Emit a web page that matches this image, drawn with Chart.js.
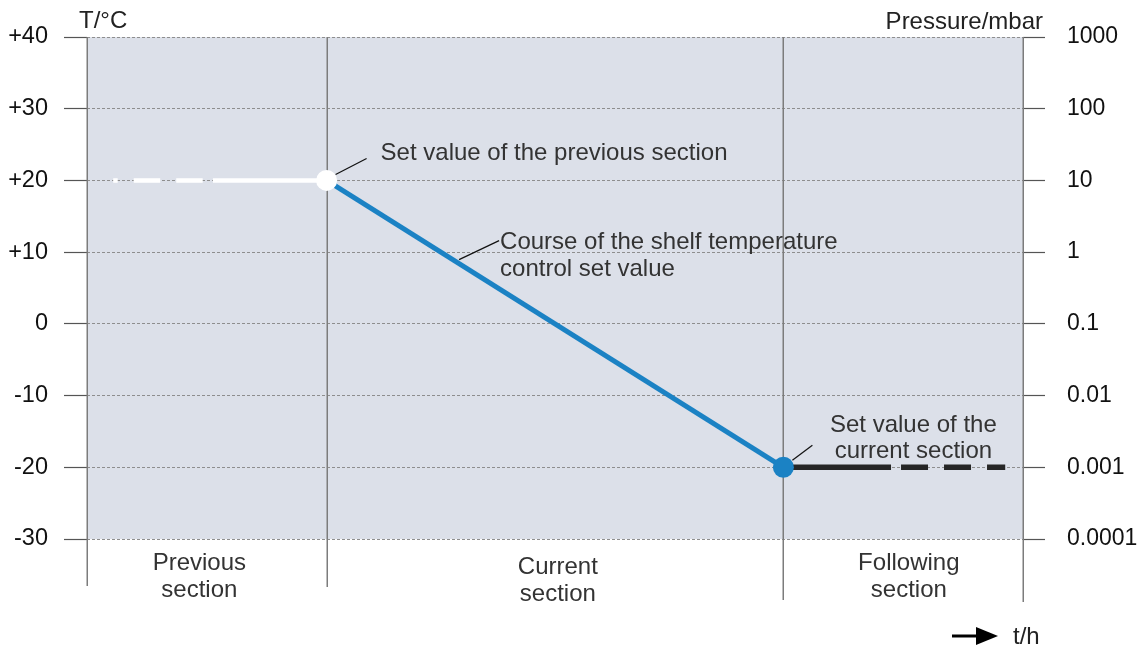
<!DOCTYPE html>
<html>
<head>
<meta charset="utf-8">
<script src="https://cdn.jsdelivr.net/npm/chart.js@4/dist/chart.umd.min.js"></script>
<style>
  html, body { margin: 0; padding: 0; background: #fff; }
  #wrap { width: 1143px; height: 645px; }
</style>
</head>
<body>
<div id="wrap"><canvas id="chart"></canvas></div>
<script>
// time axis runs 0..100 (% of the displayed period)
const sectionEdges = [0, 25.6, 74.4, 100]
const sectionNames = [['Previous', 'section'], ['Current', 'section'], ['Following', 'section']]
const sectionLabelTimes = [12, 50.3, 87.8]

const tempTicks = [40, 30, 20, 10, 0, -10, -20, -30]
const pressureTicks = [1000, 100, 10, 1, 0.1, 0.01, 0.001, 0.0001]

// set value of the previous section (dashed lead-in, then solid)
const prevTimes = [2.8, 13.45, 25.6]
const prevTemps = [20, 20, 20]
// ramp of the current section
const rampTimes = [25.6, 74.4]
const rampTemps = [20, -20]
// set value held into the following section
const nextTimes = [74.4, 85.9, 98.1]
const nextTemps = [-20, -20, -20]

const FONT = '"Liberation Sans", Arial, sans-serif'
const BLUE = '#1b82c4'

const toPoints = (xs, ys) => xs.map((x, i) => ({ x, y: ys[i] }))

const sketch = {
  id: 'sketch',
  beforeDraw(chart) {
    const { ctx, chartArea: a } = chart
    ctx.save()
    ctx.fillStyle = '#dce0e9'
    ctx.fillRect(a.left, a.top, a.right - a.left, a.bottom - a.top)
    ctx.restore()
  },
  beforeDatasetsDraw(chart) {
    const { ctx, chartArea: a, scales } = chart
    const drop = [47, 48, 61, 63]
    ctx.save()
    ctx.strokeStyle = '#7c7c7c'
    ctx.lineWidth = 1.5
    sectionEdges.forEach((t, i) => {
      const x = Math.round(scales.x.getPixelForValue(t)) + 0.25
      ctx.beginPath()
      ctx.moveTo(x, a.top)
      ctx.lineTo(x, a.bottom + drop[i])
      ctx.stroke()
    })
    ctx.restore()
  },
  afterDraw(chart) {
    const { ctx, chartArea: a, scales } = chart
    const sx = scales.x, sy = scales.y
    ctx.save()
    ctx.font = '24px ' + FONT
    ctx.textBaseline = 'alphabetic'

    // section names under the plot
    ctx.fillStyle = '#333'
    ctx.textAlign = 'center'
    sectionNames.forEach((lines, i) => {
      const x = sx.getPixelForValue(sectionLabelTimes[i])
      const y0 = a.bottom + (i === 1 ? 35 : 31)
      lines.forEach((s, j) => ctx.fillText(s, x, y0 + j * 27))
    })

    // axis captions
    ctx.fillStyle = '#222'
    ctx.textAlign = 'left'
    ctx.fillText('T/°C', a.left - 8, a.top - 9)
    ctx.textAlign = 'right'
    ctx.fillText('Pressure/mbar', a.right + 20, a.top - 8)

    // callouts
    ctx.strokeStyle = '#111'
    ctx.lineWidth = 1.2
    ctx.fillStyle = '#333'
    const leader = (x, y, dx1, dy1, dx2, dy2) => {
      ctx.beginPath()
      ctx.moveTo(x + dx1, y + dy1)
      ctx.lineTo(x + dx2, y + dy2)
      ctx.stroke()
    }

    const px = sx.getPixelForValue(rampTimes[0]), py = sy.getPixelForValue(rampTemps[0])
    leader(px, py, 9, -6, 40, -22)
    ctx.textAlign = 'left'
    ctx.fillText('Set value of the previous section', px + 54, py - 20)

    const f = 0.29
    const cx = sx.getPixelForValue(rampTimes[0] + f * (rampTimes[1] - rampTimes[0]))
    const cy = sy.getPixelForValue(rampTemps[0] + f * (rampTemps[1] - rampTemps[0]))
    leader(cx, cy, 0, -4, 40, -23)
    ctx.fillText('Course of the shelf temperature', cx + 41, cy - 15)
    ctx.fillText('control set value', cx + 41, cy + 12)

    const qx = sx.getPixelForValue(rampTimes[1]), qy = sy.getPixelForValue(rampTemps[1])
    leader(qx, qy, 9, -7, 29, -22)
    ctx.textAlign = 'center'
    ctx.fillText('Set value of the', qx + 130, qy - 35)
    ctx.fillText('current section', qx + 130, qy - 9)

    // time arrow
    const ay = 636
    ctx.strokeStyle = '#000'
    ctx.fillStyle = '#000'
    ctx.lineWidth = 3
    ctx.beginPath()
    ctx.moveTo(952, ay)
    ctx.lineTo(980, ay)
    ctx.stroke()
    ctx.beginPath()
    ctx.moveTo(976, ay - 9)
    ctx.lineTo(998, ay)
    ctx.lineTo(976, ay + 9)
    ctx.closePath()
    ctx.fill()
    ctx.textAlign = 'left'
    ctx.fillStyle = '#222'
    ctx.fillText('t/h', 1013, 644)
    ctx.restore()
  },
}

const ctx = document.getElementById('chart').getContext('2d')

new Chart(ctx, {
  type: 'line',
  data: {
    datasets: [
      {
        data: toPoints(rampTimes, rampTemps),
        borderColor: BLUE,
        borderWidth: 5,
        pointRadius: 10.5,
        pointBorderWidth: 0,
        pointBackgroundColor: ['#ffffff', BLUE],
      },
      {
        data: toPoints(prevTimes, prevTemps),
        borderColor: '#ffffff',
        borderWidth: 4.5,
        pointRadius: 0,
        segment: {
          borderDash: (c) => (c.p0DataIndex === 0 ? [26.5, 16] : undefined),
          borderDashOffset: (c) => (c.p0DataIndex === 0 ? 22 : undefined),
        },
      },
      {
        data: toPoints(nextTimes, nextTemps),
        borderColor: '#262626',
        borderWidth: 5.5,
        pointRadius: 0,
        segment: {
          borderDash: (c) => (c.p0DataIndex === 1 ? [27, 16] : undefined),
          borderDashOffset: (c) => (c.p0DataIndex === 1 ? 33 : undefined),
        },
      },
    ],
  },
  options: {
    responsive: true,
    maintainAspectRatio: false,
    animation: false,
    layout: { padding: { top: 37, bottom: 106, left: 0, right: 0 } },
    plugins: {
      legend: { display: false },
      tooltip: { enabled: false },
    },
    elements: { line: { tension: 0, borderCapStyle: 'butt' } },
    scales: {
      x: {
        type: 'linear',
        display: false,
        min: 0,
        max: 100,
      },
      y: {
        position: 'left',
        min: -30,
        max: 40,
        afterBuildTicks: (s) => { s.ticks = tempTicks.map((v) => ({ value: v })) },
        afterFit: (s) => { s.width = 87 },
        border: { display: false, dash: [3, 2] },
        grid: {
          color: '#8e8e8e',
          lineWidth: 1,
          tickLength: 23,
          tickColor: '#555',
          tickWidth: 1.2,
        },
        ticks: {
          padding: 16,
          color: '#111',
          font: { family: FONT, size: 23.5 },
          callback: (v) => (v > 0 ? '+' + v : String(v)),
        },
      },
      y2: {
        type: 'logarithmic',
        position: 'right',
        min: 0.0001,
        max: 1000,
        afterBuildTicks: (s) => { s.ticks = pressureTicks.map((v) => ({ value: v })) },
        afterFit: (s) => { s.width = 120 },
        border: { display: false },
        grid: {
          drawOnChartArea: false,
          tickLength: 22,
          tickColor: '#555',
          tickWidth: 1.2,
        },
        ticks: {
          padding: 22,
          color: '#111',
          font: { family: FONT, size: 23 },
          callback: (v) => String(v),
        },
      },
    },
  },
  plugins: [sketch],
})
</script>
</body>
</html>
